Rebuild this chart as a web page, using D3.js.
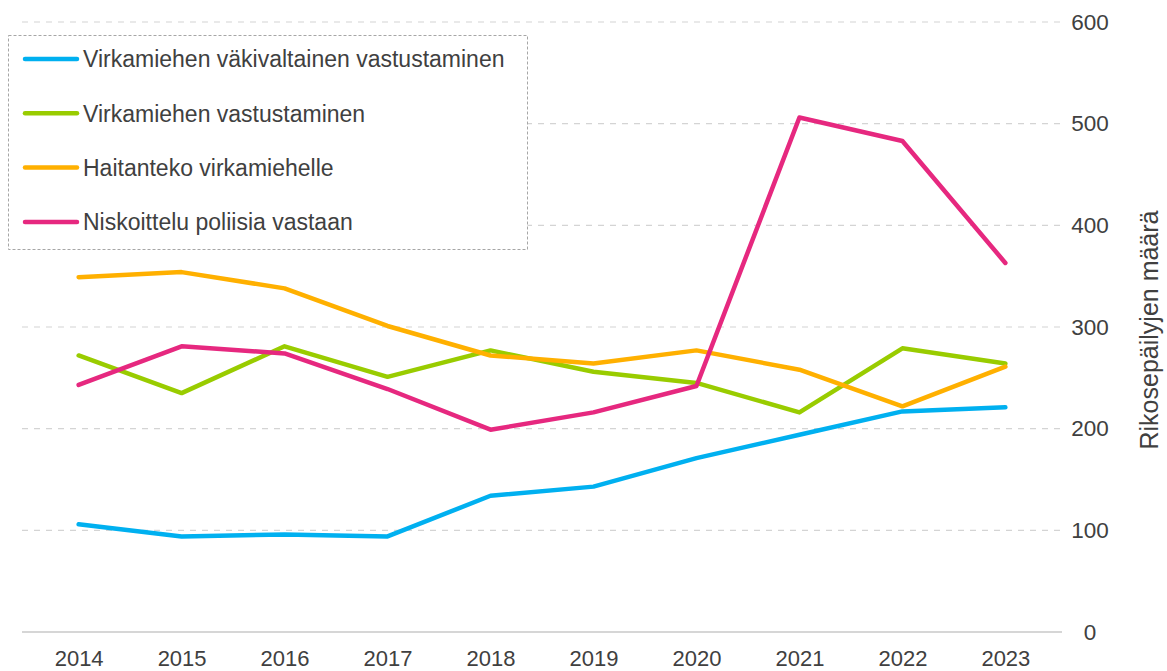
<!DOCTYPE html>
<html>
<head>
<meta charset="utf-8">
<script src="https://cdn.jsdelivr.net/npm/d3@7"></script>
<style>
  body { margin: 0; background: #fff; }
  svg { font-family: "Liberation Sans", Arial, sans-serif; }
</style>
</head>
<body>
<svg id="chart" width="1167" height="671"></svg>
<script>
const years = [2014, 2015, 2016, 2017, 2018, 2019, 2020, 2021, 2022, 2023];
const seriesNames = [
  "Virkamiehen väkivaltainen vastustaminen",
  "Virkamiehen vastustaminen",
  "Haitanteko virkamiehelle",
  "Niskoittelu poliisia vastaan"
];
const vakivaltainen = [106, 94, 96, 94, 134, 143, 171, 194, 217, 221];
const vastustaminen = [272, 235, 281, 251, 277, 256, 245, 216, 279, 264];
const haitanteko = [349, 354, 338, 301, 272, 264, 277, 258, 222, 261];
const niskoittelu = [243, 281, 274, 239, 199, 216, 242, 506, 483, 363];
const colors = ["#00b0f0", "#99cc00", "#ffb000", "#e6287f"];
const yTicks = [0, 100, 200, 300, 400, 500, 600];
const yTitle = "Rikosepäilyjen määrä";

const svg = d3.select("#chart");
const plotLeft = 22, plotRight = 1062, plotTop = 22, plotBottom = 632;

// x positions by year, y by count
const x = d3.scalePoint()
  .domain(years)
  .range([plotLeft, plotRight])
  .padding(0.55);
const y = d3.scaleLinear()
  .domain([0, 600])
  .range([plotBottom, plotTop]);

// gridlines
svg.append("g")
  .selectAll("line")
  .data(yTicks.filter(t => t > 0))
  .join("line")
    .attr("x1", plotLeft).attr("x2", plotRight)
    .attr("y1", d => y(d)).attr("y2", d => y(d))
    .attr("stroke", "#d4d4d4")
    .attr("stroke-width", 1.2)
    .attr("stroke-dasharray", "6,6");

// baseline
svg.append("line")
  .attr("x1", plotLeft).attr("x2", plotRight)
  .attr("y1", y(0)).attr("y2", y(0))
  .attr("stroke", "#c8c8c8")
  .attr("stroke-width", 1.5);

// right axis labels
const yAxis = d3.axisRight(y).tickValues(yTicks).tickSize(0).tickPadding(0);
const ya = svg.append("g")
  .attr("transform", `translate(1090,0)`)
  .call(yAxis);
ya.select(".domain").remove();
ya.selectAll("text")
  .attr("text-anchor", "middle")
  .attr("font-size", 22.5)
  .attr("fill", "#404040")
  .attr("font-family", "Liberation Sans, Arial, sans-serif");

svg.append("text")
  .attr("transform", "translate(1158,330) rotate(-90)")
  .attr("text-anchor", "middle")
  .attr("font-size", 25)
  .attr("fill", "#404040")
  .text(yTitle);

// bottom axis labels
const xAxis = d3.axisBottom(x).tickSize(0).tickPadding(0);
const xa = svg.append("g")
  .attr("transform", `translate(0,${plotBottom + 26})`)
  .call(xAxis);
xa.select(".domain").remove();
xa.selectAll("text")
  .attr("dy", "0.35em")
  .attr("font-size", 22)
  .attr("fill", "#404040")
  .attr("font-family", "Liberation Sans, Arial, sans-serif");

// lines
const allSeries = [vakivaltainen, vastustaminen, haitanteko, niskoittelu];
const line = d3.line()
  .x((d, i) => x(years[i]))
  .y(d => y(d));

svg.append("g")
  .selectAll("path")
  .data(allSeries)
  .join("path")
    .attr("d", line)
    .attr("fill", "none")
    .attr("stroke", (d, i) => colors[i])
    .attr("stroke-width", 4.5)
    .attr("stroke-linejoin", "round")
    .attr("stroke-linecap", "round");

// legend
const lg = svg.append("g");
lg.append("rect")
  .attr("x", 8.5).attr("y", 35.5)
  .attr("width", 519).attr("height", 214)
  .attr("fill", "#fff")
  .attr("stroke", "#a6a6a6")
  .attr("stroke-width", 1)
  .attr("stroke-dasharray", "3,2");

const items = lg.selectAll("g.item")
  .data(seriesNames)
  .join("g")
    .attr("class", "item")
    .attr("transform", (d, i) => `translate(0,${59 + i * 54.3})`);
items.append("line")
  .attr("x1", 25).attr("x2", 77)
  .attr("stroke", (d, i) => colors[i])
  .attr("stroke-width", 4.5)
  .attr("stroke-linecap", "round");
items.append("text")
  .attr("x", 83)
  .attr("dy", "0.36em")
  .attr("font-size", 23)
  .attr("fill", "#404040")
  .text(d => d);
</script>
</body>
</html>
